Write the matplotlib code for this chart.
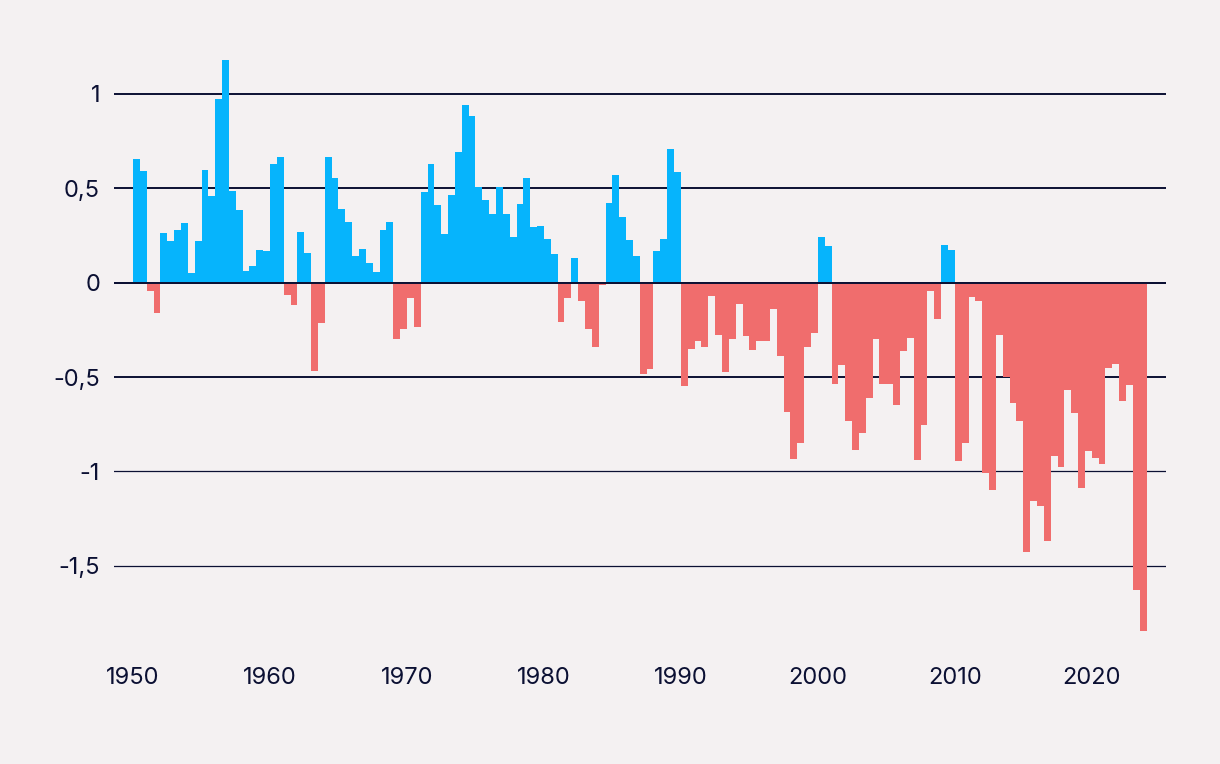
import numpy as np
import matplotlib
matplotlib.use("Agg")
import matplotlib.pyplot as plt

# -----------------------------------------------------------------------------
# Duomenys: pusmečio reikšmės nuo 1950 iki 2023 (2 stulpeliai per metus)
# -----------------------------------------------------------------------------
start_year = 1950
values = [
    0.654, 0.59, -0.046, -0.163, 0.265, 0.219, 0.277, 0.318, 0.051, 0.221,
    0.595, 0.458, 0.973, 1.182, 0.488, 0.383, 0.06, 0.086, 0.175, 0.17,
    0.627, 0.664, -0.064, -0.119, 0.27, 0.155, -0.469, -0.212, 0.668, 0.554,
    0.39, 0.32, 0.143, 0.177, 0.104, 0.055, 0.278, 0.324, -0.296, -0.247,
    -0.083, -0.234, 0.48, 0.629, 0.41, 0.258, 0.464, 0.694, 0.939, 0.882,
    0.505, 0.436, 0.363, 0.507, 0.363, 0.24, 0.415, 0.555, 0.297, 0.30,
    0.23, 0.15, -0.208, -0.081, 0.13, -0.097, -0.244, -0.34, -0.011, 0.42,
    0.57, 0.35, 0.228, 0.14, -0.485, -0.457, 0.166, 0.231, 0.71, 0.588,
    -0.547, -0.35, -0.307, -0.343, -0.072, -0.277, -0.475, -0.298, -0.114, -0.282,
    -0.358, -0.31, -0.31, -0.138, -0.386, -0.684, -0.933, -0.848, -0.338, -0.267,
    0.24, 0.195, -0.538, -0.437, -0.73, -0.886, -0.795, -0.612, -0.30, -0.538,
    -0.538, -0.65, -0.364, -0.295, -0.938, -0.755, -0.042, -0.19, 0.20, 0.174,
    -0.946, -0.848, -0.074, -0.095, -1.01, -1.10, -0.279, -0.50, -0.636, -0.733,
    -1.426, -1.156, -1.183, -1.37, -0.918, -0.976, -0.566, -0.69, -1.086, -0.891,
    -0.926, -0.959, -0.45, -0.43, -0.628, -0.542, -1.63, -1.843,
]
xtick_years = [1950, 1960, 1970, 1980, 1990, 2000, 2010, 2020]
ytick_values = [-1.5, -1, -0.5, 0, 0.5, 1]
ytick_labels = ['-1,5', '-1', '-0,5', '0', '0,5', '1']

# -----------------------------------------------------------------------------
# Stilius
# -----------------------------------------------------------------------------
BG = '#f4f1f2'
INK = '#0b1033'
BLUE = '#06b4fc'
RED = '#f06d6d'

plt.rcParams['font.family'] = ['Inter', 'DejaVu Sans']

vals = np.array(values)
periods = start_year + 0.5 * np.arange(len(vals))
colors = [BLUE if v >= 0 else RED for v in vals]

fig = plt.figure(figsize=(12.2, 7.64), dpi=100, facecolor=BG)
ax = fig.add_axes([114 / 1220, 114 / 764, 1052 / 1220, 610 / 764])
ax.set_facecolor(BG)

# horizontalios linijos
for v in ytick_values:
    lw = 1.4 if v > -1 else 0.9
    ax.axhline(v, color=INK, linewidth=lw, zorder=1)

ax.bar(periods, vals, width=0.5, align='edge', color=colors,
       linewidth=0, zorder=2)
ax.axhline(0, color=INK, linewidth=1.4, zorder=3)

ax.set_xlim(1948.61, 2025.42)
ax.set_ylim(-1.9455, 1.2855)

ax.set_xticks(xtick_years)
ax.set_xticklabels([str(y) for y in xtick_years])
ax.set_yticks(ytick_values)
ax.set_yticklabels(ytick_labels)
ax.tick_params(axis='both', length=0, labelsize=17, labelcolor=INK)
ax.tick_params(axis='x', pad=12)
ax.tick_params(axis='y', pad=10)

for s in ax.spines.values():
    s.set_visible(False)

fig.savefig('out.png', dpi=100, facecolor=BG)
